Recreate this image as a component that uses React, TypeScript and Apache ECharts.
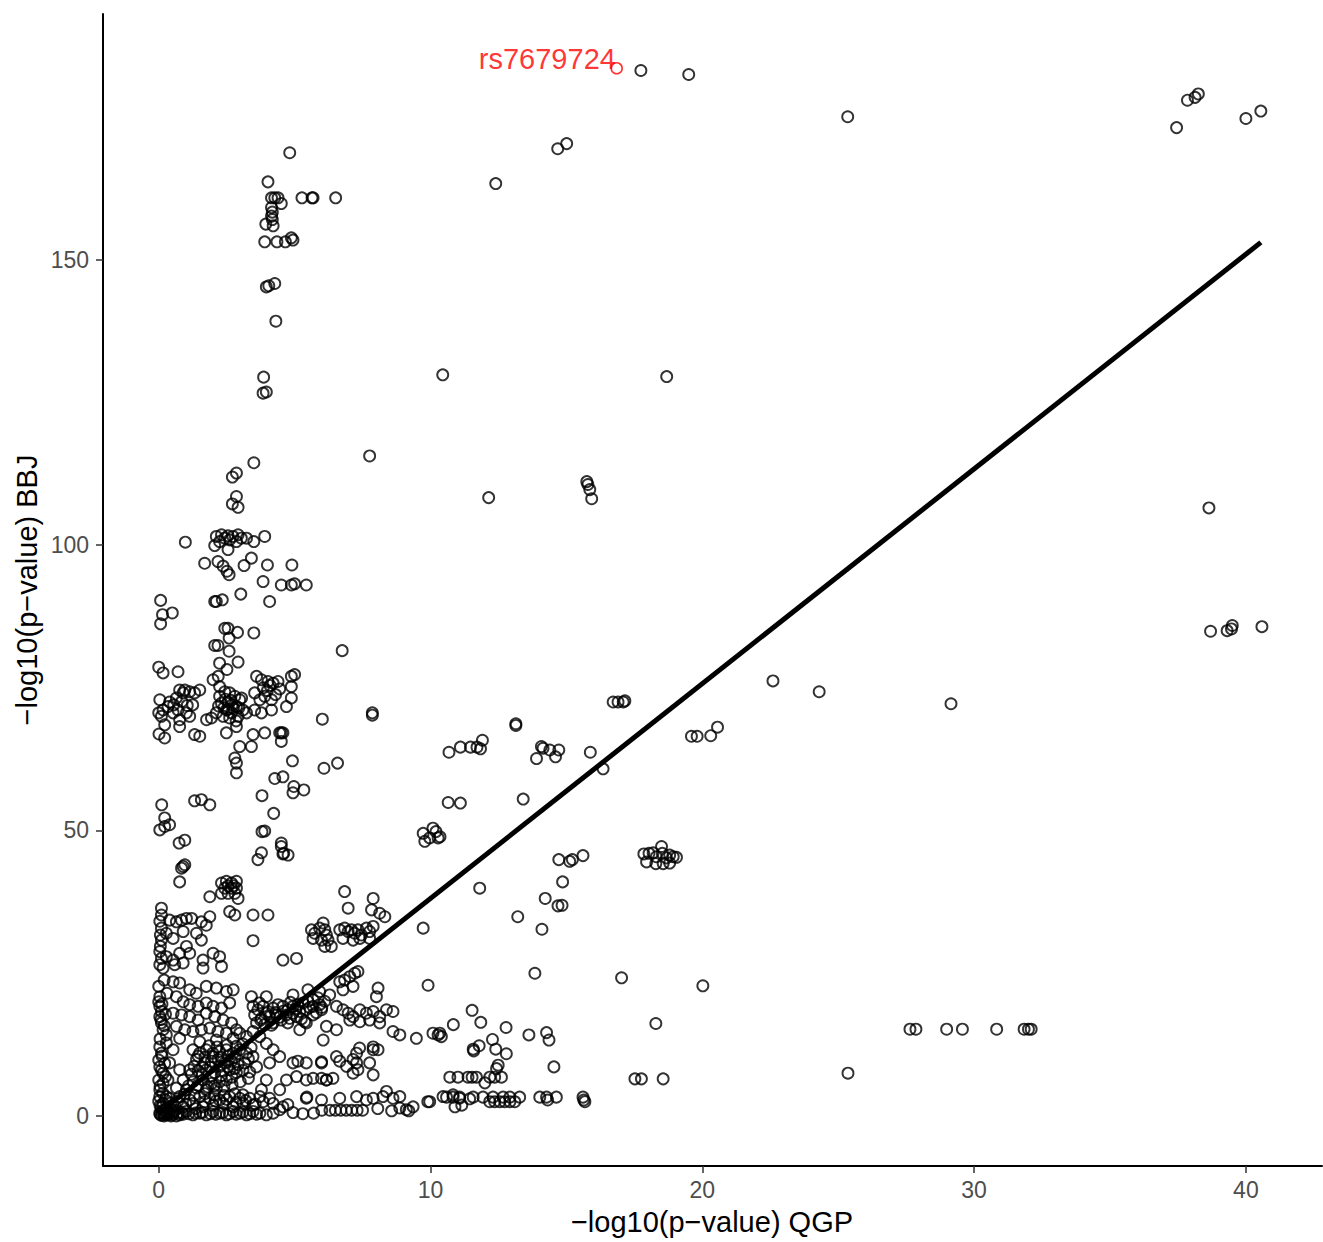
import React, { useEffect, useRef } from "react";
import * as echarts from "echarts";

// ---- Data: [-log10(p) QGP, -log10(p) BBJ] ----
const topPoints: number[][] = [
  [17.74, 183.1], [19.5, 182.4], [25.35, 175.0], [14.68, 169.4], [15.01, 170.3], [12.4, 163.3],
  [37.45, 173.1], [37.85, 177.9], [38.13, 178.4], [38.25, 179.0], [40.0, 174.7], [40.55, 176.0],
  [10.45, 129.8], [18.69, 129.5], [7.76, 115.6], [12.14, 108.3],
  [15.75, 111.1], [15.79, 110.6], [15.86, 109.7], [15.93, 108.1],
];

const farRightPoints: number[][] = [
  [38.64, 106.5], [38.7, 84.9], [39.31, 85.0], [39.47, 85.3], [39.5, 85.9], [40.59, 85.7],
  [22.6, 76.2], [24.3, 74.3], [29.15, 72.2],
  [27.64, 15.2], [27.86, 15.2], [28.99, 15.2], [29.57, 15.2], [30.83, 15.2], [31.84, 15.2], [32.0, 15.2], [32.1, 15.2],
  [25.36, 7.5],
];

const upperLeftPoints: number[][] = [
  [4.82, 168.7], [4.02, 163.6], [4.15, 160.8], [4.27, 160.8], [4.39, 160.8], [5.27, 160.8], [5.64, 160.8],
  [5.68, 160.8], [6.51, 160.8], [4.51, 159.8], [4.15, 159.1], [4.18, 158.3], [4.15, 157.6], [4.18, 157.0],
  [3.94, 156.2], [4.21, 155.9], [3.9, 153.1], [4.35, 153.1], [4.66, 153.1], [4.88, 153.8], [4.94, 153.4],
  [3.96, 145.2], [4.05, 145.4], [4.27, 145.8], [4.31, 139.2], [3.86, 129.4], [3.84, 126.6], [3.96, 126.8],
  [3.5, 114.4], [2.86, 112.6], [2.71, 111.9], [2.86, 108.5], [2.71, 107.2], [2.92, 106.6],
];

const upperMidPoints: number[][] = [
  [2.12, 101.5], [2.31, 101.8], [2.43, 101.2], [2.55, 101.6], [2.73, 101.5], [2.92, 101.8], [3.04, 101.2],
  [3.23, 101.2], [2.24, 100.6], [2.06, 99.9], [2.55, 99.2], [3.5, 100.6], [3.9, 101.5], [2.61, 100.9],
  [2.86, 100.6], [0.98, 100.5], [1.69, 96.8], [2.18, 97.1], [2.37, 96.3], [2.51, 95.4], [2.59, 94.8],
  [3.14, 96.4], [3.41, 97.7], [4.0, 96.5], [4.9, 96.5], [3.84, 93.6], [4.51, 93.0], [4.88, 93.0], [5.0, 93.2],
  [5.43, 93.0], [0.07, 90.3], [0.14, 87.8], [0.5, 88.1], [0.07, 86.2], [2.06, 90.1], [2.12, 90.1],
  [2.34, 90.4], [3.02, 91.4], [4.08, 90.1], [2.43, 85.4], [2.55, 85.4], [2.59, 83.7], [2.9, 84.7],
  [3.5, 84.6], [2.06, 82.4], [2.18, 82.4], [2.59, 81.4], [6.75, 81.5], [2.24, 79.3], [2.51, 78.2],
  [2.92, 79.5], [0, 78.6], [0.16, 77.6], [0.71, 77.8],
];

const band70Points: number[][] = [
  [0.04, 72.9], [0.16, 71.1], [0, 70.6], [0.34, 71.7], [0.53, 70.6], [0.77, 69.4], [0.9, 74.1], [1.14, 74.3],
  [1.32, 74.1], [0.71, 71.1], [1.02, 70.6], [1.14, 70.0], [0.22, 68.5], [0.65, 73.2], [0.77, 74.6],
  [0.96, 74.6], [1.51, 74.6], [0.4, 72.5], [1.25, 72.0], [0.1, 70.0],
  [2.0, 76.4], [2.19, 77.0], [2.24, 75.2], [2.43, 74.3], [2.61, 74.1], [2.8, 73.5], [2.98, 72.9], [2.31, 72.3],
  [2.49, 71.1], [2.68, 70.6], [2.86, 71.7], [3.1, 71.1], [2.12, 70.6], [2.37, 70.0], [2.61, 69.7], [2.92, 70.0],
  [3.23, 70.6], [2.24, 73.5], [1.94, 69.7], [1.76, 69.4], [2.55, 72.5], [2.7, 72.0], [2.4, 71.5], [2.85, 69.2],
  [3.6, 77.0], [3.78, 76.4], [4.02, 76.1], [4.21, 75.8], [4.39, 76.1], [4.88, 77.0], [5.0, 77.3], [4.88, 75.2],
  [3.53, 74.1], [3.72, 72.9], [3.9, 73.5], [4.15, 72.9], [3.53, 71.1], [3.78, 70.6], [4.15, 71.1], [4.7, 71.7],
  [4.88, 73.2], [4.0, 74.5],
  [6.02, 69.5], [7.86, 70.6], [7.86, 70.2], [0.01, 66.9], [0.22, 66.2], [0.77, 68.2], [1.32, 66.8], [1.51, 66.5],
  [2.49, 67.1], [2.86, 68.2], [3.47, 66.8], [3.9, 67.1], [4.45, 67.1], [4.51, 67.1], [4.57, 67.1], [4.51, 65.6],
  [2.98, 64.7], [3.41, 64.7], [2.8, 62.7], [2.86, 61.8], [2.86, 60.1], [4.92, 62.2], [6.08, 60.9], [6.58, 61.8],
  [4.27, 59.1], [4.57, 59.4], [4.97, 57.7], [5.34, 57.1], [4.94, 56.6], [3.8, 56.1], [4.23, 53.0], [3.9, 49.9],
  [2.55, 71.2], [2.75, 71.4], [2.65, 72.8], [2.45, 73.0], [2.95, 71.5], [3.05, 73.2], [2.2, 71.8], [3.85, 75.0],
  [4.1, 75.4], [4.45, 74.8], [4.3, 73.8], [0.55, 72.0], [0.85, 72.6], [1.05, 71.9],
];

const band50Points: number[][] = [
  [0.11, 54.5], [1.32, 55.2], [1.57, 55.4], [1.88, 54.5], [0.22, 52.2], [0.04, 50.1], [0.4, 51.0], [0.22, 50.7],
  [0.75, 47.8], [0.96, 48.3], [3.8, 49.8], [4.51, 47.8], [4.51, 47.2], [4.6, 46.0], [0.96, 44.0], [0.9, 43.7],
  [0.84, 43.4], [0.77, 41.0], [2.31, 40.8], [2.49, 41.1], [2.68, 40.8], [2.86, 41.1], [2.43, 39.9], [2.68, 39.9],
  [2.86, 39.9], [2.31, 39.0], [2.55, 39.0], [2.8, 39.0], [2.92, 38.1], [1.88, 38.4], [3.65, 44.9], [3.78, 46.1],
  [4.57, 45.9], [4.76, 45.7], [2.55, 40.3], [2.75, 40.3],
];

const band30Points: number[][] = [
  [6.84, 39.3], [6.97, 36.4], [7.89, 38.1], [7.83, 36.1], [8.13, 35.5], [8.32, 34.9], [9.73, 32.9], [9.91, 22.9],
  [2.61, 35.8], [2.8, 35.2], [3.47, 35.2], [4.02, 35.2], [3.47, 30.7],
  [0.1, 36.4], [0.1, 35.2], [0.04, 34.1], [0.1, 32.9], [0.06, 31.7], [0.1, 30.8], [0.06, 29.7], [0.04, 28.8],
  [0.1, 27.6], [0.04, 26.5], [0.16, 25.9],
  [0.4, 34.3], [0.65, 34.0], [0.84, 34.3], [1.02, 34.6], [1.21, 34.6], [1.57, 34.0], [1.75, 33.4], [1.88, 34.9],
  [0.28, 32.0], [0.53, 31.1], [0.9, 32.3], [1.02, 29.7], [0.77, 28.5], [1.14, 28.5], [0.28, 27.9], [0.53, 27.3],
  [0.59, 26.5], [0.9, 26.8], [1.39, 32.0], [1.57, 30.8], [1.63, 27.3], [2.0, 28.5], [2.24, 27.9], [2.31, 26.2],
  [1.63, 25.9], [4.57, 27.3], [5.07, 27.6],
  [5.62, 32.6], [5.74, 32.0], [5.68, 31.1], [5.92, 32.9], [6.05, 33.8], [6.11, 32.6], [6.17, 31.7], [5.99, 30.8],
  [6.11, 29.7], [6.35, 29.7], [6.23, 30.8],
  [6.66, 32.6], [6.84, 32.9], [6.97, 32.3], [7.09, 32.6], [7.21, 32.0], [7.33, 32.6], [7.46, 31.7], [7.64, 32.9],
  [7.76, 32.3], [7.89, 33.2], [6.78, 31.1], [7.15, 30.8], [7.4, 31.1], [7.76, 31.1],
  [6.66, 23.5], [6.84, 23.8], [7.03, 24.4], [7.21, 25.0], [7.33, 25.3], [6.78, 22.1], [7.15, 22.7], [8.07, 22.4],
  [8.01, 20.9], [3.41, 20.9], [3.96, 20.9], [4.94, 21.2], [5.49, 22.1], [5.92, 21.8], [6.29, 21.2],
];

const band18Points: number[][] = [
  [3.47, 19.2], [3.65, 18.6], [3.84, 19.2], [4.02, 18.3], [4.21, 18.9], [4.39, 19.5], [4.57, 19.2], [4.76, 18.6],
  [4.94, 19.2], [5.12, 19.5], [5.31, 19.8], [5.49, 20.1], [5.68, 20.4], [5.86, 20.7], [3.53, 17.7], [3.78, 17.1],
  [4.08, 17.4], [4.33, 17.7], [4.7, 17.7], [4.94, 18.0], [5.19, 18.3], [5.43, 18.6], [5.68, 19.2], [5.92, 19.5],
  [6.11, 20.1], [3.6, 16.3], [3.9, 16.0], [4.21, 16.3], [4.51, 16.8], [4.82, 17.1], [5.07, 17.4], [5.37, 16.5],
  [5.68, 17.7], [5.99, 18.6],
  [6.54, 19.2], [6.78, 18.6], [6.97, 18.0], [7.15, 17.4], [7.4, 18.6], [7.64, 18.0], [7.89, 18.3], [8.13, 17.4],
  [8.38, 18.6], [8.62, 18.3], [7.03, 16.8], [7.4, 16.5], [7.76, 16.8], [8.13, 16.3], [5.43, 16.3], [5.19, 15.1],
  [6.17, 15.7], [6.54, 15.1],
  [3.7, 19.8], [3.95, 18.0], [4.3, 18.1], [4.6, 18.4], [4.85, 19.9], [5.05, 18.8], [5.25, 17.0], [5.55, 19.0],
  [5.8, 18.1], [6.0, 19.0], [3.75, 16.8], [4.15, 15.9], [4.45, 17.3], [4.75, 16.3],
];

const lowLeftPoints: number[][] = [
  [0, 22.7], [0.04, 20.9], [0, 20.0], [0.04, 19.2], [0.1, 18.3], [0.04, 17.4], [0.1, 16.3], [0.16, 15.1],
  [0.53, 23.5], [0.77, 23.3], [1.14, 22.1], [1.38, 21.5], [1.75, 22.7], [2.12, 22.4], [2.49, 21.8], [2.74, 22.1],
  [0.65, 20.9], [0.9, 20.0], [1.14, 19.5], [1.45, 19.2], [1.75, 19.8], [2.0, 19.2], [2.31, 18.9], [2.61, 19.8],
  [0.53, 18.0], [0.84, 17.7], [1.14, 17.4], [1.45, 16.8], [1.75, 18.0], [2.06, 17.4], [2.37, 16.8], [2.68, 16.3],
  [0.65, 15.7], [0.96, 15.1], [1.26, 14.8], [1.57, 15.1], [1.88, 15.4], [2.18, 14.8], [2.49, 14.5], [2.86, 15.1],
  [0.28, 14.2], [0.77, 13.6], [1.51, 13.0], [2.12, 13.3], [2.74, 13.6],
  [0.15, 4.0], [0.05, 5.2], [0.25, 6.9], [0.1, 8.0], [0.22, 9.2], [0.12, 10.5], [0.28, 12.8], [0.05, 13.5],
  [0.2, 15.8], [0.08, 16.9], [0.25, 17.8], [0.12, 19.6], [0.3, 21.5], [0.2, 23.8],
];

const diagLowPoints: number[][] = [
  [1.26, 11.6], [1.51, 11.0], [1.75, 11.6], [1.99, 11.0], [2.24, 11.3], [2.49, 11.6], [2.74, 11.0], [2.98, 11.6],
  [3.23, 11.0], [3.47, 10.4], [1.39, 9.9], [1.69, 9.3], [1.94, 9.6], [2.18, 9.9], [2.43, 9.3], [2.68, 9.6],
  [2.92, 9.0], [3.16, 9.3], [1.14, 8.1], [1.45, 7.9], [1.75, 8.1], [2.06, 7.6], [2.37, 7.9], [2.61, 8.1],
  [2.86, 7.6], [0.9, 6.3], [1.26, 6.0], [1.63, 6.3], [1.94, 5.7], [2.24, 6.0], [2.49, 6.3], [0.65, 4.9],
  [1.02, 4.6], [1.39, 4.9], [1.75, 4.6], [2.12, 4.9],
  [2.98, 14.5], [3.23, 13.9], [3.47, 14.8], [3.72, 13.9], [3.96, 12.7], [4.21, 11.6], [4.45, 10.4], [4.08, 9.3],
  [3.6, 8.6], [3.96, 6.3], [4.45, 4.6], [3.78, 4.6],
  [0.04, 12.1], [0.1, 11.0], [0, 9.8], [0.04, 8.6], [0.16, 7.5], [0, 6.3], [0.16, 5.7], [0.04, 4.6], [0.28, 3.4],
  [0.53, 11.6], [0.4, 9.3], [0.77, 8.1], [0.34, 6.3],
  [1.1, 5.3], [1.45, 5.4], [1.8, 5.1], [2.05, 5.3], [2.4, 5.2], [2.7, 5.5], [3.0, 6.0], [3.3, 6.6], [2.7, 6.8],
  [2.3, 7.1], [1.95, 7.0], [1.6, 7.2], [1.2, 7.3], [1.3, 8.7], [1.6, 8.6], [1.9, 8.5], [2.25, 8.7], [2.55, 8.6],
  [2.8, 8.3], [3.1, 8.0], [3.35, 7.7], [3.3, 10.0], [2.8, 10.3], [2.55, 10.5], [2.3, 10.3], [2.0, 10.4],
  [1.7, 10.3], [1.45, 10.5], [1.85, 12.3], [2.15, 12.1], [2.5, 12.4], [2.85, 12.2], [3.1, 12.6], [3.4, 12.0],
];

const bottomPoints: number[][] = [
  [0.04, 0.5], [0.28, 0.2], [0.53, 0.5], [0.77, 0.2], [1.02, 0.8], [1.26, 0.2], [1.51, 0.5], [1.75, 0.2],
  [2.0, 0.8], [2.24, 0.5], [2.49, 0.2], [2.74, 0.8], [2.98, 0.5], [3.23, 0.2], [3.47, 0.8], [3.72, 0.5],
  [3.96, 0.2], [4.21, 0.5], [4.45, 1.1],
  [0.16, 2.2], [0.53, 1.9], [0.9, 1.6], [1.26, 2.2], [1.63, 1.6], [2.0, 1.9], [2.37, 2.2], [2.74, 1.6],
  [3.1, 2.2], [3.47, 1.9], [3.84, 2.5], [4.21, 2.2], [4.57, 1.6],
  [0.04, 3.4], [0.4, 3.1], [0.77, 3.4], [1.14, 2.8], [1.51, 3.4], [1.88, 3.1], [2.24, 2.8], [2.61, 3.4],
  [2.98, 3.1], [3.35, 3.1], [3.72, 3.4], [4.08, 3.1],
  [0.1, 0.1], [0.2, 0.0], [0.35, 0.3], [0.45, 0.0], [0.15, 1.0], [0.3, 1.3], [0.6, 1.0], [0.05, 1.8],
  [0.65, 0.0], [0.9, 0.3], [0.0, 2.6], [0.25, 2.8],
  [0.05, 0.3], [0.12, 0.6], [0.2, 0.4], [0.28, 0.7], [0.38, 0.5], [0.5, 0.2], [0.55, 0.7], [0.7, 0.5],
  [0.85, 0.6], [1.1, 0.4], [1.35, 0.5], [1.6, 0.6], [1.9, 0.4], [2.1, 0.3], [2.35, 0.6], [2.6, 0.4],
  [2.85, 0.3], [3.1, 0.7], [3.35, 0.4], [3.6, 0.3],
  [0.1, 1.5], [0.45, 2.3], [0.7, 2.6], [1.0, 2.1], [1.35, 1.3], [1.7, 2.5], [2.1, 2.6], [2.5, 2.9],
  [2.85, 2.4], [3.2, 2.7], [3.55, 2.1], [0.95, 3.8], [1.3, 3.6], [1.7, 3.9], [2.05, 3.7], [2.4, 3.6],
  [2.8, 3.9], [3.1, 3.7],
  [4.94, 0.6], [5.3, 0.4], [5.7, 0.5], [6.0, 1.0], [6.3, 1.0], [6.5, 1.0], [6.7, 1.0], [6.9, 1.0], [7.1, 1.0],
  [7.3, 1.0], [7.5, 1.0], [8.06, 1.3], [8.57, 0.9], [8.87, 1.4], [9.2, 0.9], [4.75, 2.0], [5.45, 3.3],
];

const midLowPoints: number[][] = [
  [4.94, 9.3], [5.12, 9.6], [5.43, 9.3], [5.99, 9.3], [6.54, 10.4], [6.66, 9.6], [7.15, 9.9], [7.28, 9.3],
  [7.89, 11.6], [7.39, 11.9], [5.07, 6.9], [5.43, 6.3], [5.68, 6.6], [5.99, 6.6], [6.17, 6.3], [6.41, 6.6],
  [4.7, 6.3], [5.43, 3.1], [5.99, 2.8], [6.66, 3.1], [7.28, 3.4], [7.64, 2.8], [7.89, 3.1], [8.25, 3.4],
  [8.62, 3.1], [8.87, 3.4], [8.38, 4.3], [9.11, 1.1], [9.36, 1.6], [9.97, 2.5], [10.46, 3.4], [10.83, 3.7],
  [11.07, 3.1],
  [8.62, 14.8], [8.87, 14.2], [9.48, 13.6], [7.89, 12.1], [8.07, 11.6], [7.76, 9.3], [7.28, 11.0], [6.91, 8.7],
  [7.15, 7.5], [7.33, 8.1], [7.89, 7.2], [6.17, 6.3], [5.99, 9.5], [6.05, 13.3],
];

const midRightLowPoints: number[][] = [
  [10.34, 14.5], [10.84, 16.0], [11.53, 18.5], [11.85, 16.4], [12.78, 15.5], [13.62, 14.2], [14.27, 14.6],
  [14.36, 13.3], [12.28, 13.4], [12.4, 11.7], [12.79, 10.9], [11.79, 12.3], [11.57, 11.7], [11.59, 11.4],
  [12.49, 8.9], [12.43, 8.3], [14.54, 8.6], [10.09, 14.5], [10.28, 14.2], [10.4, 13.9],
  [10.71, 6.8], [11.01, 6.8], [11.38, 6.8], [11.53, 6.8], [11.69, 6.8], [12.0, 5.8], [12.18, 6.8], [12.36, 6.8],
  [12.61, 6.8], [17.52, 6.5], [17.76, 6.5], [18.56, 6.5],
  [10.59, 3.3], [10.83, 3.3], [11.07, 3.3], [11.57, 3.3], [11.93, 3.3], [12.3, 3.3], [12.67, 3.3], [12.92, 3.3],
  [13.28, 3.3], [14.02, 3.3], [14.27, 3.3], [14.63, 3.3], [15.61, 3.3], [12.18, 2.5], [12.36, 2.5], [12.55, 2.5],
  [12.73, 2.5], [12.92, 2.5], [13.1, 2.5], [11.44, 3.0], [10.9, 1.6], [11.15, 1.9], [14.31, 2.8], [15.64, 2.8],
  [15.68, 2.5], [9.9, 2.5],
];

const midRightPoints: number[][] = [
  [16.72, 72.5], [16.9, 72.5], [17.09, 72.5], [17.15, 72.7], [13.14, 68.7], [13.14, 68.4], [10.68, 63.7],
  [11.1, 64.6], [11.47, 64.6], [11.71, 64.6], [11.84, 64.3], [11.91, 65.8], [13.9, 62.6], [14.08, 64.7],
  [14.14, 64.4], [14.39, 64.1], [14.6, 62.9], [14.72, 64.1], [15.88, 63.7], [16.35, 60.8], [19.6, 66.5],
  [19.81, 66.5], [20.31, 66.6], [20.56, 68.1], [10.65, 54.9], [11.1, 54.8], [13.41, 55.5], [14.72, 44.9],
  [15.12, 44.6], [15.22, 44.9], [15.61, 45.6], [14.86, 41.0], [11.81, 39.9], [14.22, 38.1], [14.69, 36.8],
  [14.84, 36.9], [13.21, 34.9], [14.1, 32.7],
  [17.85, 45.9], [18.04, 46.0], [18.19, 46.1], [18.31, 45.4], [18.5, 47.2], [18.53, 46.0], [18.68, 45.2],
  [18.8, 45.7], [18.93, 45.4], [19.05, 45.3], [17.95, 44.5], [18.29, 44.2], [18.56, 44.2], [18.8, 44.3],
  [13.84, 25.0], [17.03, 24.2], [20.02, 22.8], [18.29, 16.2],
  [9.73, 49.5], [10.09, 50.4], [10.28, 48.7], [9.79, 48.1], [9.97, 48.7], [10.2, 49.8], [10.35, 48.9],
];

const highlightPoint: number[][] = [[16.85, 183.5]];
const highlightLabel = "rs7679724";

// linear fit, endpoints over the data's x range
const regLine: number[][] = [[0, 0.5], [40.55, 153.0]];

const xTicks = [0, 10, 20, 30, 40];
const yTicks = [0, 50, 100, 150];
const xTitle = "\u2212log10(p\u2212value) QGP";
const yTitle = "\u2212log10(p\u2212value) BBJ";

const FONT = "'Liberation Sans', Arial, Helvetica, sans-serif";

export default function App() {
  const ref = useRef<HTMLDivElement>(null);
  useEffect(() => {
    if (!ref.current) return;
    const chart = echarts.init(ref.current, null, { renderer: "svg" });
    const allPoints = [
      ...topPoints, ...farRightPoints, ...upperLeftPoints, ...upperMidPoints, ...band70Points,
      ...band50Points, ...band30Points, ...band18Points, ...lowLeftPoints, ...diagLowPoints,
      ...bottomPoints, ...midLowPoints, ...midRightLowPoints, ...midRightPoints,
    ];
    const axisCommon = {
      type: "value" as const,
      splitLine: { show: false },
      axisLine: { show: true, onZero: false, lineStyle: { color: "#000", width: 2 } },
    };
    chart.setOption({
      animation: false,
      backgroundColor: "#fff",
      grid: { left: 103, right: 1, top: 14, bottom: 76, containLabel: false },
      xAxis: {
        ...axisCommon,
        min: -2.05,
        max: 42.8,
        axisTick: { show: true, customValues: xTicks, length: 7, lineStyle: { color: "#333", width: 1.5 } },
        axisLabel: { customValues: xTicks, color: "#4D4D4D", fontSize: 23, margin: 12, fontFamily: FONT },
      },
      yAxis: {
        ...axisCommon,
        min: -8.76,
        max: 193,
        axisTick: { show: true, customValues: yTicks, length: 7, lineStyle: { color: "#333", width: 1.5 } },
        axisLabel: { customValues: yTicks, color: "#4D4D4D", fontSize: 23, margin: 14, fontFamily: FONT },
      },
      graphic: [
        {
          type: "text",
          x: 712,
          y: 1222,
          style: { text: xTitle, fontSize: 29, fontFamily: FONT, fill: "#000", textAlign: "center", textVerticalAlign: "middle" },
        },
        {
          type: "text",
          x: 27,
          y: 590,
          rotation: Math.PI / 2,
          style: { text: yTitle, fontSize: 29, fontFamily: FONT, fill: "#000", textAlign: "center", textVerticalAlign: "middle" },
        },
      ],
      series: [
        {
          type: "scatter",
          data: allPoints,
          symbol: "circle",
          symbolSize: 11,
          itemStyle: { color: "rgba(0,0,0,0)", borderColor: "#000", borderWidth: 1.9 },
          z: 2,
        },
        {
          type: "line",
          data: regLine,
          symbol: "none",
          lineStyle: { color: "#000", width: 5 },
          z: 3,
        },
        {
          type: "scatter",
          data: highlightPoint,
          symbol: "circle",
          symbolSize: 11,
          itemStyle: { color: "rgba(0,0,0,0)", borderColor: "#FF0000", borderWidth: 1.6 },
          label: {
            show: true,
            formatter: highlightLabel,
            position: [5.5, -3],
            align: "right",
            verticalAlign: "middle",
            color: "#FF0000",
            fontSize: 29,
            fontFamily: FONT,
          },
          z: 4,
        },
      ],
    });
    return () => chart.dispose();
  }, []);
  return <div ref={ref} style={{ position: "absolute", left: 0, top: 0, width: 1323, height: 1242 }} />;
}
